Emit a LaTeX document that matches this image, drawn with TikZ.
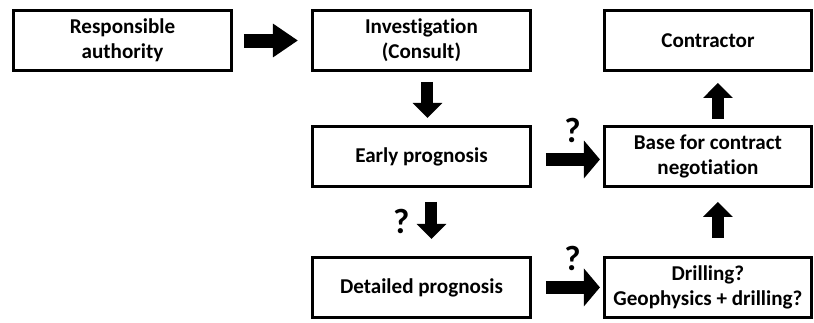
\documentclass[tikz,border=0pt]{standalone}
\usepackage{fontspec}
\setmainfont{Carlito}[Ligatures=NoCommon]
\usetikzlibrary{arrows.meta, positioning}

\begin{document}
\begin{tikzpicture}[
    node distance=1.325cm and 1.95cm,
    block/.style={rectangle, draw=black, line width=2.1pt, minimum width=#1, minimum height=1.5cm, align=center, font=\fontsize{15}{18}\selectfont\bfseries},
    block/.default=5.45cm,
    harr/.style={-{Triangle[length=0.625cm, width=0.8cm]}, line width=0.35cm},
    qarr/.style={-{Triangle[length=0.4cm, width=0.925cm]}, line width=0.33cm},
    varr/.style={-{Triangle[length=0.375cm, width=0.72cm]}, line width=0.3cm},
    qmark/.style={font=\fontsize{25}{25}\selectfont\bfseries, inner sep=0pt},
]
\useasboundingbox (0,0) rectangle (20.35,-8.05);

% Row 1
\node[block] (auth) at (3.0625,-1.0125) {Responsible\\authority};
\node[block, right=of auth] (inv) {Investigation\\(Consult)};
\node[block=5.175cm, right=1.775cm of inv] (contr) {Contractor};

% Row 2
\node[block, below=of inv] (early) {Early prognosis};
\node[block=5.175cm, below=of contr] (base) {Base for contract\\negotiation};

% Row 3
\node[block, below=1.7cm of early] (det) {Detailed prognosis};
\node[block=5.175cm, below=1.7cm of base] (drill) {Drilling?\\Geophysics + drilling?};

% Arrows
\draw[harr, shorten <=0.275cm, shorten >=0.325cm] (auth) -- (inv);
\draw[varr, shorten <=0.25cm, shorten >=0.175cm] ([xshift=0.15cm]inv.south) -- ([xshift=0.15cm]early.north);
\draw[varr, shorten <=0.35cm, shorten >=0.425cm] ([xshift=0.25cm]early.south) -- ([xshift=0.25cm]det.north)
    node[midway, left=0.4cm, qmark] {?};
\draw[qarr, shorten <=0.35cm, shorten >=0.075cm] ([yshift=-0.075cm]early.east) -- ([yshift=-0.075cm]base.west)
    node[midway, above=0.25cm, xshift=0.125cm, qmark] {?};
\draw[qarr, shorten <=0.35cm, shorten >=0.075cm] (det) -- (drill)
    node[midway, above=0.25cm, xshift=0.125cm, qmark] {?};
\draw[varr, shorten <=0.45cm, shorten >=0.35cm] ([xshift=0.25cm]drill.north) -- ([xshift=0.25cm]base.south);
\draw[varr, shorten <=0.15cm, shorten >=0.275cm] ([xshift=0.25cm]base.north) -- ([xshift=0.25cm]contr.south);
\end{tikzpicture}
\end{document}
